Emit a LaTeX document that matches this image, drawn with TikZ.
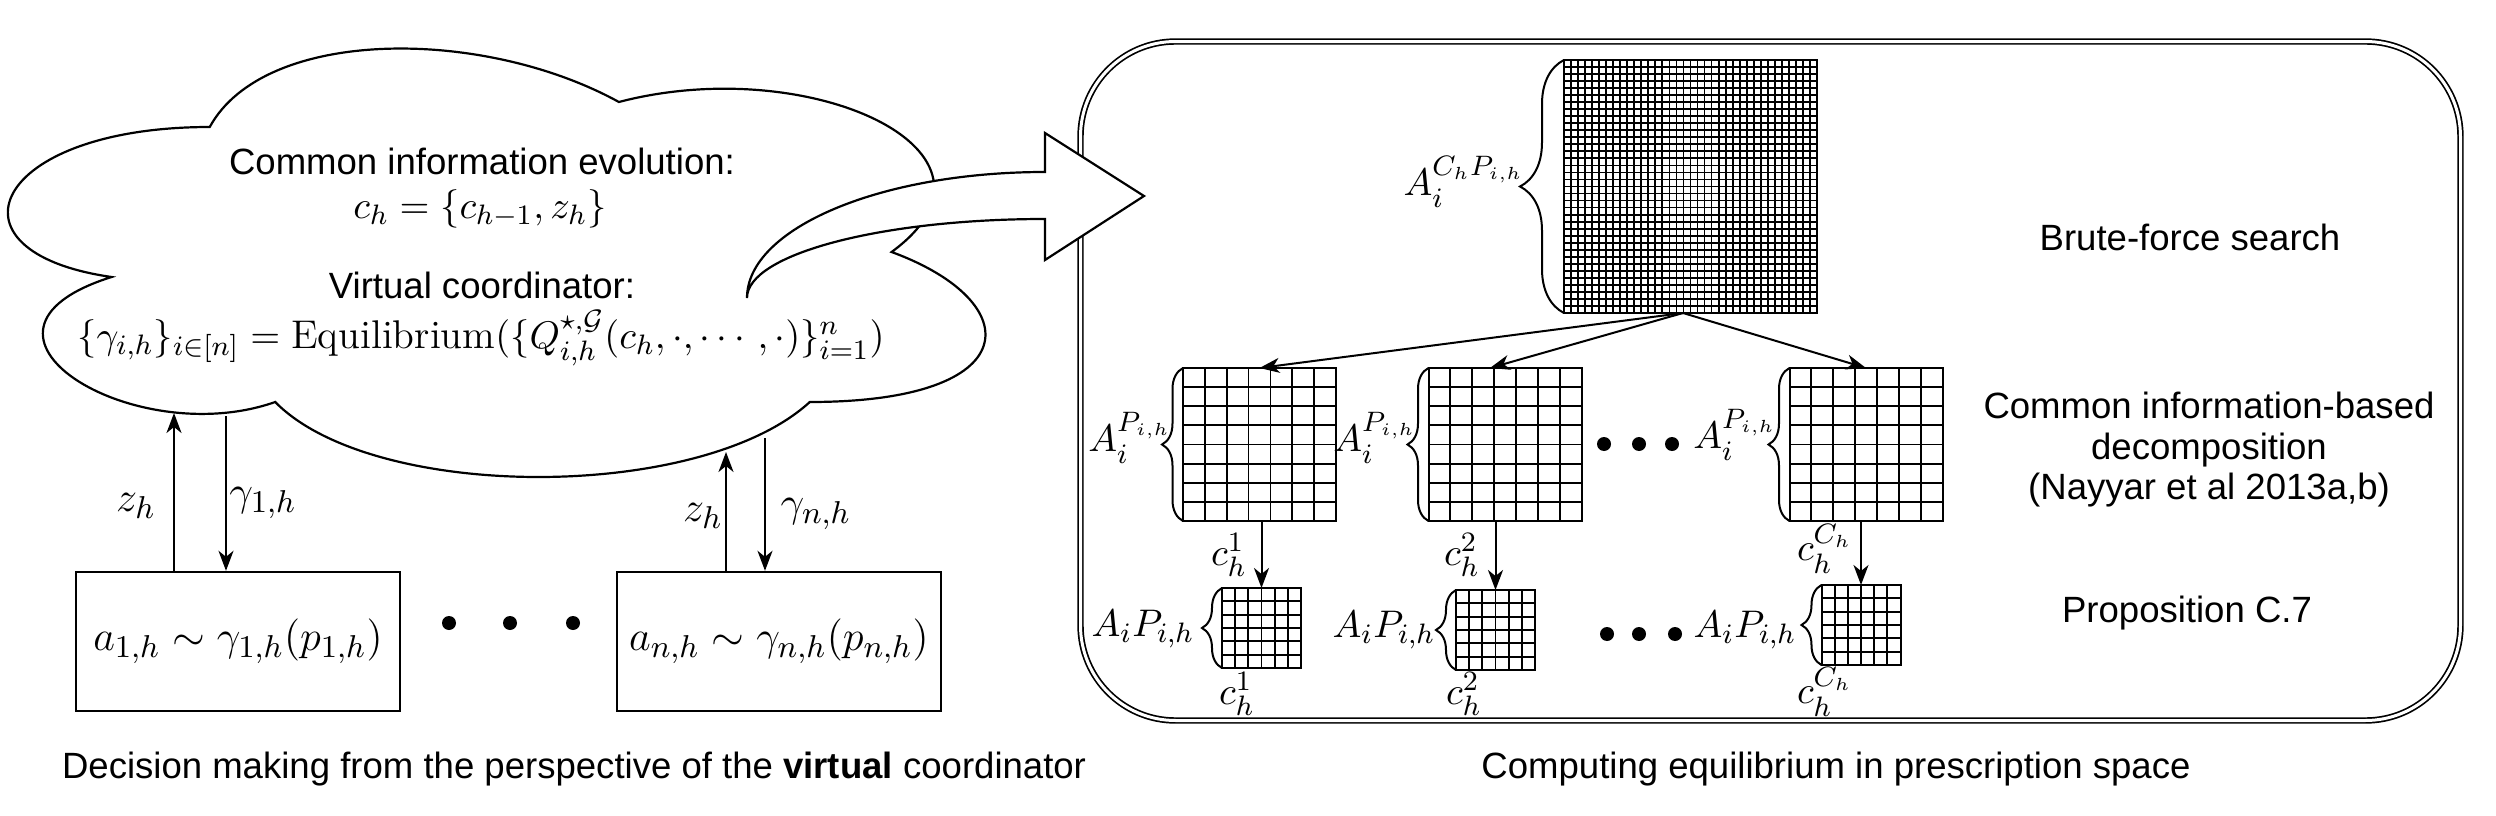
\documentclass[tikz,border=0pt]{standalone}
\usepackage{fontspec}
\usepackage{amsmath,amssymb}
\newfontfamily\arial{Liberation Sans}
\usetikzlibrary{arrows.meta,calc,decorations.pathreplacing}

\newcommand{\cellgrid}[3]{%
  \pgfmathtruncatemacro{\gcm}{#2-1}%
  \pgfmathtruncatemacro{\grm}{#3-1}%
  \foreach \k in {1,...,\gcm}{\draw[gl] ($(#1.north west)!\k/#2!(#1.north east)$) -- ($(#1.south west)!\k/#2!(#1.south east)$);}%
  \foreach \k in {1,...,\grm}{\draw[gl] ($(#1.north west)!\k/#3!(#1.south west)$) -- ($(#1.north east)!\k/#3!(#1.south east)$);}%
}

\tikzset{
  ln/.style={line width=0.22mm},
  arr/.style={line width=0.2mm, -{Stealth[length=2mm,width=1.5mm,inset=0.6mm]}},
  box/.style={draw, line width=0.24mm, minimum width=32.4mm, minimum height=13.9mm, inner sep=0},
  gridbox/.style={draw, line width=0.2mm, inner sep=0, outer sep=0},
  gl/.style={line width=0.18mm},
  sans/.style={font=\arial\fontsize{10.4}{12}\selectfont, inner sep=0},
  mth/.style={font=\fontsize{11}{13}\selectfont, inner sep=0},
  mthc/.style={font=\fontsize{11.4}{13}\selectfont, inner sep=0},
  mthb/.style={font=\fontsize{12.5}{14}\selectfont, inner sep=0},
  brc/.style={decorate, decoration={brace, amplitude=#1}, line width=0.2mm},
  dot/.style={fill=black},
}

\begin{document}
\begin{tikzpicture}[x=0.1mm, y=-0.1mm]
\useasboundingbox (0,0) rectangle (2496,816);

% right container
\node[draw, line width=0.17mm, double, double distance=0.3mm, rounded corners=9.5mm,
      minimum width=138mm, minimum height=67.9mm, inner sep=0] (frame) at (1770.5,381) {};

% cloud
\draw[ln, fill=white] (209.75,127) .. controls (-8.45,127) and (-63,252) .. (111.56,277)
  .. controls (-63,332) and (133.4,452) .. (275.2,402)
  .. controls (373.4,502) and (700.7,502) .. (809.8,402)
  .. controls (1028,402) and (1028,302) .. (891.6,252)
  .. controls (1028,152) and (809.8,52) .. (618.9,102)
  .. controls (482.5,27) and (264.3,27) .. (209.75,127) -- cycle;

% jump arrow
\draw[ln, fill=white, line join=miter] (747,298) .. controls (747,228.4) and (880.4,172) .. (1045,172)
  -- (1045,133) -- (1144,196) -- (1045,260) -- (1045,219)
  .. controls (880.4,219) and (747,254.4) .. (747,298) -- cycle;

% cloud texts
\node[sans, anchor=base] (t1) at (482,175) {Common information evolution:};
\node[mthc, anchor=base] (t2) at (480,218) {$c_h=\{c_{h-1},z_h\}$};
\node[sans, anchor=base] (t3) at (482,298) {Virtual coordinator:};
\node[mthc, anchor=base] (t4) at (481,348) {$\{\gamma_{i,h}\}_{i\in[n]}=\mathrm{Equilibrium}(\{Q^{\star,\mathcal{G}}_{i,h}(c_h,\cdot,\cdots,\cdot)\}_{i=1}^n)$};

% agent boxes
\node[box] (b1) at (238,641.5) {\fontsize{12.3}{14}\selectfont$a_{1,h}\sim\gamma_{1,h}(p_{1,h})$};
\node[box] (bn) at (779,641.5) {\fontsize{12.3}{14}\selectfont$a_{n,h}\sim\gamma_{n,h}(p_{n,h})$};

\coordinate (c1) at (174,413);
\coordinate (c2) at (226,416);
\coordinate (c3) at (726,452);
\coordinate (c4) at (765,438);
\draw[arr] (b1.north -| c1) -- (c1);
\draw[arr] (c2) -- (b1.north -| c2);
\draw[arr] (bn.north -| c3) -- (c3);
\draw[arr] (c4) -- (bn.north -| c4);

\node[mthb] (l1) at (136,506) {$z_h$};
\node[mthb] (l2) at (263,503) {$\gamma_{1,h}$};
\node[mthb] (l3) at (703,516) {$z_h$};
\node[mthb] (l4) at (816,514) {$\gamma_{n,h}$};

\fill[dot] (449,623) circle[radius=0.7mm];
\fill[dot] (510,623) circle[radius=0.7mm];
\fill[dot] (573,623) circle[radius=0.7mm];

\node[sans, anchor=base] (cap1) at (574,778) {Decision making from the perspective of the \textbf{virtual} coordinator};

% big grid
\node[gridbox, minimum width=25.3mm, minimum height=25.3mm] (big) at (1690.5,186.5) {};
\cellgrid{big}{36}{36}
\draw[brc=4.4mm] (big.south west) -- (big.north west);
\node[mth] (bl) at (1464,182) {$A_i^{C_hP_{i,h}}$};

% medium grids
\node[gridbox, minimum width=15.3mm, minimum height=15.3mm] (g1) at (1259.5,444.5) {};
\node[gridbox, minimum width=15.3mm, minimum height=15.3mm] (g2) at (1505,444.5) {};
\node[gridbox, minimum width=15.3mm, minimum height=15.3mm] (g3) at (1866,444.5) {};
\cellgrid{g1}{7}{8}
\cellgrid{g2}{7}{8}
\cellgrid{g3}{7}{8}
\draw[brc=2.1mm] (g1.south west) -- (g1.north west);
\draw[brc=2.1mm] (g2.south west) -- (g2.north west);
\draw[brc=2.1mm] (g3.south west) -- (g3.north west);
\node[mth] (gl1) at (1130,438) {$A_i^{P_{i,h}}$};
\node[mth] (gl2) at (1375,438) {$A_i^{P_{i,h}}$};
\node[mth] (gl3) at (1735,435) {$A_i^{P_{i,h}}$};

% small grids
\node[gridbox, minimum width=7.9mm, minimum height=8mm] (s1) at (1261.5,628) {};
\node[gridbox, minimum width=7.9mm, minimum height=8mm] (s2) at (1495.5,630) {};
\node[gridbox, minimum width=7.9mm, minimum height=8mm] (s3) at (1861,625) {};
\cellgrid{s1}{6}{6}
\cellgrid{s2}{6}{6}
\cellgrid{s3}{6}{6}
\draw[brc=2mm] (s1.south west) -- (s1.north west);
\draw[brc=2mm] (s2.south west) -- (s2.north west);
\draw[brc=2mm] (s3.south west) -- (s3.north west);
\node[mth] (sl1) at (1143,629) {$A_iP_{i,h}$};
\node[mth] (sl2) at (1384,630) {$A_iP_{i,h}$};
\node[mth] (sl3) at (1745,630) {$A_iP_{i,h}$};

% fan arrows
\coordinate (fan) at ([xshift=-0.75mm]big.south);
\draw[arr] (fan) -- (g1.north);
\draw[arr] (fan) -- ([xshift=-1.5mm]g2.north);
\draw[arr] (fan) -- (g3.north);

% vertical arrows
\draw[arr] (s1.north |- g1.south) -- (s1.north);
\draw[arr] (s2.north |- g2.south) -- (s2.north);
\draw[arr] (s3.north |- g3.south) -- (s3.north);
\node[mth] (a1) at (1229,555) {$c_h^1$};
\node[mth] (a2) at (1462,555) {$c_h^2$};
\node[mth] (a3) at (1825,549) {$c_h^{C_h}$};
\node[mth] (d1) at (1237,694) {$c_h^1$};
\node[mth] (d2) at (1464,694) {$c_h^2$};
\node[mth] (d3) at (1825,692) {$c_h^{C_h}$};

\fill[dot] (1604,444) circle[radius=0.7mm];
\fill[dot] (1639,444) circle[radius=0.7mm];
\fill[dot] (1672,444) circle[radius=0.7mm];
\fill[dot] (1607,634) circle[radius=0.7mm];
\fill[dot] (1639,634) circle[radius=0.7mm];
\fill[dot] (1675,634) circle[radius=0.7mm];

% right texts
\node[sans, anchor=base] (r1) at (2190,250) {Brute-force search};
\node[sans, anchor=base] (r2) at (2209,418) {Common information-based};
\node[sans, anchor=base] (r3) at (2209,459) {decomposition};
\node[sans, anchor=base] (r4) at (2209,499) {(Nayyar et al 2013a,b)};
\node[sans, anchor=base] (r5) at (2187,622) {Proposition C.7};
\node[sans, anchor=base] (cap2) at (1836,778) {Computing equilibrium in prescription space};
\end{tikzpicture}
\end{document}
